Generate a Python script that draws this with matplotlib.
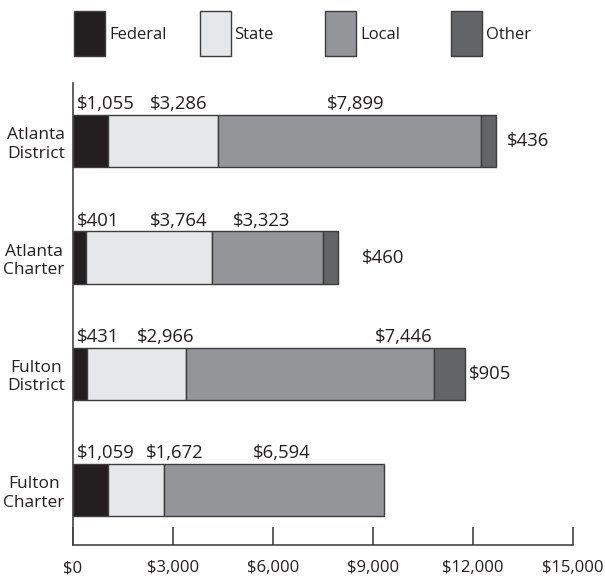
import matplotlib
matplotlib.use("Agg")
from matplotlib import pyplot as plt
from matplotlib.patches import Rectangle
import numpy as np

plt.rcParams['font.family'] = ['Open Sans', 'DejaVu Sans']

schools = ['Atlanta\nDistrict', 'Atlanta\nCharter', 'Fulton\nDistrict', 'Fulton\nCharter']
sources = ['Federal', 'State', 'Local', 'Other']
federal = [1055, 401, 431, 1059]
state = [3286, 3764, 2966, 1672]
local = [7899, 3323, 7446, 6594]
other = [436, 460, 905, 0]
xticks = [0, 3000, 6000, 9000, 12000, 15000]

colors = ['#231f20', '#e6e7e8', '#939598', '#636466']
edge = '#3c3c3c'
txt = '#231f20'

# where the value labels start (data units)
label_x = [[120, 2310, 7620],
           [120, 2310, 4800],
           [120, 1920, 9060],
           [120, 2190, 5400]]
other_gap = [330, 720, 120, 0]

fig = plt.figure(figsize=(6.05, 5.78), dpi=100)
ax = fig.add_axes([73/605, 1-545/578, 500/605, 462/578])

values = np.array([federal, state, local, other])
y = np.arange(len(schools))
h = 0.45
left = np.zeros(len(schools))
for i, name in enumerate(sources):
    w = values[i]
    mask = w > 0
    ax.barh(y[mask], w[mask], left=left[mask], height=h, color=colors[i],
            edgecolor=edge, linewidth=1.0)
    left = left + w

for r in range(len(schools)):
    for j in range(3):
        ax.text(label_x[r][j], y[r] - h/2 - 0.015, '${:,}'.format(values[j][r]),
                ha='left', va='bottom', fontsize=13.3, color=txt)
    if other[r] > 0:
        ax.text(left[r] + other_gap[r], y[r], '${:,}'.format(other[r]),
                ha='left', va='center', fontsize=13.3, color=txt)

ax.set_xlim(0, 15000)
ax.set_ylim(3.47, -0.5)
ax.set_xticks(xticks)
ax.set_xticklabels(['${:,}'.format(v) for v in xticks], fontsize=12, color=txt)
ax.set_yticks(y)
ax.set_yticklabels(schools, fontsize=12.5, color=txt, multialignment='center')
ax.tick_params(axis='x', direction='in', length=13, width=1.2, pad=11, color='#444444')
ax.tick_params(axis='y', length=0, pad=6)
ax.spines['top'].set_visible(False)
ax.spines['right'].set_visible(False)
ax.spines['left'].set_linewidth(1.2)
ax.spines['bottom'].set_linewidth(1.2)
ax.spines['left'].set_color('#444444')
ax.spines['bottom'].set_color('#444444')

# legend drawn by hand across the top
for i, name in enumerate(sources):
    x0 = (74 + 125.5*i) / 605
    fig.add_artist(Rectangle((x0, 1-56/578), 31/605, 45/578, transform=fig.transFigure,
                             facecolor=colors[i], edgecolor=edge, linewidth=1.0))
    fig.text(x0 + 35/605, 1-35/578, name, ha='left', va='center', fontsize=12, color=txt)

plt.savefig('out.png', dpi=100)
